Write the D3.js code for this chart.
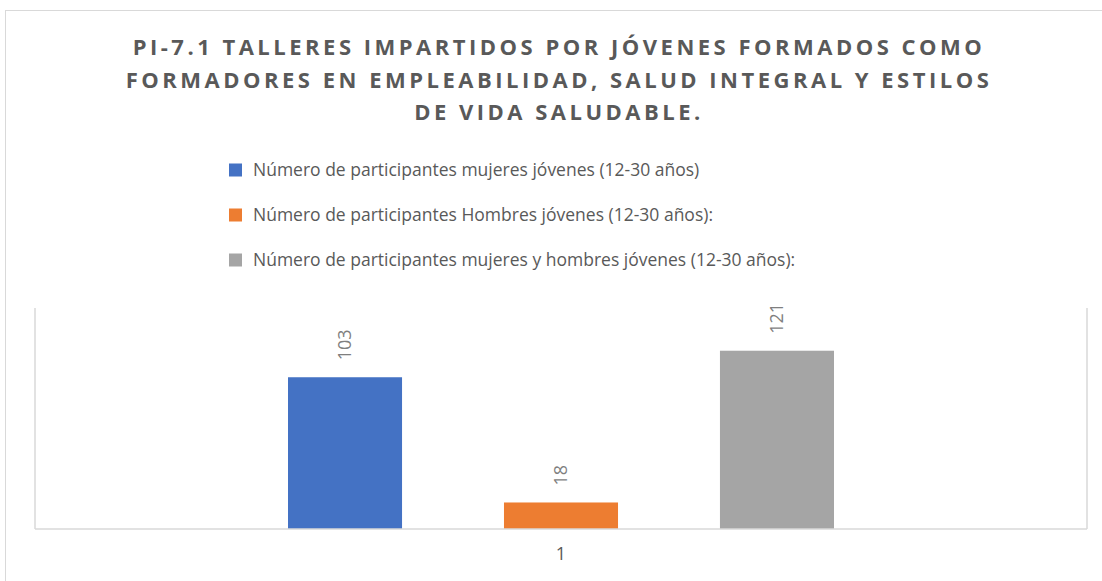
<!DOCTYPE html>
<html>
<head>
<meta charset="utf-8">
<script src="https://cdn.jsdelivr.net/npm/d3@7"></script>
<style>
  body { margin: 0; background: #fff; }
  svg { display: block; }
</style>
</head>
<body>
<svg id="chart" width="1102" height="581"></svg>
<script>
// ---------------------------------------------------------------
//   Data
// ---------------------------------------------------------------
var categories = ["1"];
var series_names = [
  "Número de participantes mujeres jóvenes (12-30 años)",
  "Número de participantes Hombres jóvenes (12-30 años):",
  "Número de participantes mujeres y hombres jóvenes (12-30 años):"
];
var series_values = [103, 18, 121];
var series_colors = ["#4472c4", "#ed7d31", "#a5a5a5"];
var title_lines = [
  "PI-7.1 TALLERES IMPARTIDOS POR JÓVENES FORMADOS COMO",
  "FORMADORES EN EMPLEABILIDAD, SALUD INTEGRAL Y ESTILOS",
  "DE VIDA SALUDABLE."
];

var svg = d3.select("#chart");
var margin = {left: 35, right: 15, top: 308, bottom: 52};
var width = 1102, height = 581;

// outer chart border
svg.append("rect")
    .attr("x", 5.5).attr("y", 10.5)
    .attr("width", 1110).attr("height", 600)
    .style("fill", "none").style("stroke", "#d9d9d9");

// ---------------------------------------------------------------
//   Title
// ---------------------------------------------------------------
svg.append("g").selectAll("text")
    .data(title_lines)
  .enter().append("text")
    .attr("x", 559)
    .attr("y", function(d, i) { return 55 + i * 32.5; })
    .attr("text-anchor", "middle")
    .style("font-family", "'Open Sans', sans-serif")
    .style("font-weight", "bold")
    .style("font-size", "22px")
    .style("letter-spacing", "3.5px")
    .style("fill", "#595959")
    .text(function(d) { return d; });

// ---------------------------------------------------------------
//   Legend
// ---------------------------------------------------------------
var legend = svg.append("g").selectAll("g")
    .data(series_names)
  .enter().append("g")
    .attr("transform", function(d, i) { return "translate(229," + (170 + i * 45) + ")"; });

legend.append("rect")
    .attr("x", 0).attr("y", -6.5)
    .attr("width", 13).attr("height", 13)
    .style("fill", function(d, i) { return series_colors[i]; });

legend.append("text")
    .attr("x", 24).attr("y", 6)
    .style("font-family", "'Open Sans', sans-serif")
    .style("font-size", "17.5px")
    .style("fill", "#595959")
    .text(function(d) { return d; });

// ---------------------------------------------------------------
//   Scales
// ---------------------------------------------------------------
var x0 = d3.scaleBand()
    .domain(categories)
    .range([margin.left, width - margin.right])
    .padding(0);

var x1 = d3.scaleBand()
    .domain(d3.range(series_values.length))
    .range([x0.bandwidth() * 0.2405, x0.bandwidth() * 0.7595])
    .paddingInner(0.472)
    .paddingOuter(0);

var yScale = d3.scaleLinear()
    .domain([0, 150])
    .range([height - margin.bottom, margin.top]);

// plot area lines (left, right)
[margin.left, width - margin.right].forEach(function(px) {
  svg.append("line")
      .attr("x1", px).attr("x2", px)
      .attr("y1", margin.top).attr("y2", height - margin.bottom)
      .style("stroke", "#d9d9d9").style("stroke-width", 1.5);
});

// ---------------------------------------------------------------
//   Bars
// ---------------------------------------------------------------
var group = svg.append("g")
    .attr("transform", "translate(" + x0(categories[0]) + ",0)");

group.selectAll("rect")
    .data(series_values)
  .enter().append("rect")
    .attr("x", function(d, i) { return x1(i); })
    .attr("width", x1.bandwidth())
    .attr("y", function(d) { return yScale(d); })
    .attr("height", function(d) { return yScale(0) - yScale(d); })
    .style("fill", function(d, i) { return series_colors[i]; });

// value labels (rotated)
group.selectAll("text.value")
    .data(series_values)
  .enter().append("text")
    .attr("class", "value")
    .attr("transform", function(d, i) {
      return "translate(" + (x1(i) + x1.bandwidth() / 2 + 6) + "," + (yScale(d) - 17) + ") rotate(-90)";
    })
    .style("font-family", "'Open Sans', sans-serif")
    .style("font-size", "18px")
    .style("fill", "#7f7f7f")
    .text(function(d) { return d; });

// ---------------------------------------------------------------
//   X axis
// ---------------------------------------------------------------
var xAxis = svg.append("g")
    .attr("transform", "translate(0," + (height - margin.bottom) + ")")
    .call(d3.axisBottom(x0).tickSize(0).tickPadding(18));

xAxis.select(".domain")
    .attr("d", "M" + margin.left + ",0H" + (width - margin.right))
    .style("stroke", "#d9d9d9").style("stroke-width", 1.5);

xAxis.selectAll("text")
    .style("font-family", "'Open Sans', sans-serif")
    .style("font-size", "18px")
    .style("fill", "#595959");
</script>
</body>
</html>
